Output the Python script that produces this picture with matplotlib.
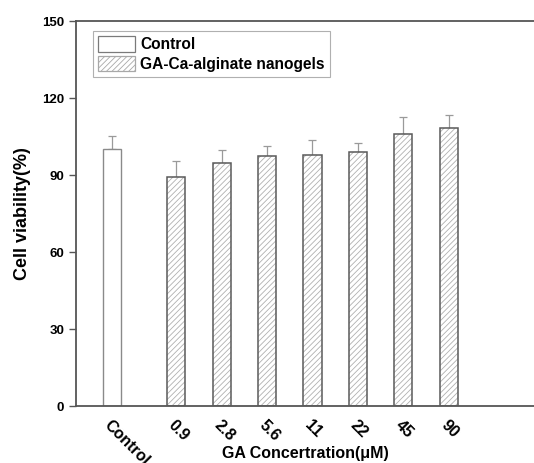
import numpy as np
import matplotlib.pyplot as plt
import matplotlib.transforms as mtransforms
from matplotlib.patches import Patch

plt.rcParams['font.family'] = ['Liberation Sans', 'DejaVu Sans']
plt.rcParams['font.weight'] = 'bold'
plt.rcParams['hatch.linewidth'] = 0.6

labels = ['Control', '0.9', '2.8', '5.6', '11', '22', '45', '90']
viability = [100.0, 89.2, 94.6, 97.4, 97.7, 98.8, 105.9, 108.4]
err = [5.3, 6.4, 5.0, 3.9, 5.8, 3.8, 6.6, 4.9]

pos = np.array([0.0] + [1.42 + i for i in range(7)])
w = 0.4

fig = plt.figure(figsize=(5.34, 4.63), dpi=100)
ax = fig.add_axes([0.1423, 0.1231, 0.8577, 0.8315])

ctrl_edge = '#8a8a8a'
edge = '#5a5a5a'

# control bar
ax.bar(pos[0], viability[0], w, color='white', edgecolor=ctrl_edge, linewidth=1.0,
       zorder=2)
# nanogel bars: hatch drawn light, outline drawn darker on top
ax.bar(pos[1:], viability[1:], w, color='white', edgecolor='#b0b0b0', hatch='//////',
       linewidth=0, zorder=2)
ax.bar(pos[1:], viability[1:], w, fill=False, edgecolor=edge, linewidth=1.1, zorder=3)

ax.errorbar(pos, viability, yerr=[np.zeros(len(err)), err], fmt='none',
            ecolor='#9a9a9a', elinewidth=0.9, capsize=3, capthick=0.9, zorder=1)

# legend proxies
h1 = Patch(facecolor='white', edgecolor='#7a7a7a', linewidth=0.9, label='Control')
h2 = Patch(facecolor='white', edgecolor='#a8a8a8', hatch='//////', linewidth=0.9,
           label='GA-Ca-alginate nanogels')
leg = ax.legend(handles=[h1, h2], loc='upper left', bbox_to_anchor=(0.037, 0.973),
                fontsize=11.2, handlelength=2.4, handleheight=1.15, handletextpad=0.35,
                borderpad=0.3, labelspacing=0.25, fancybox=False, framealpha=1,
                borderaxespad=0)
leg.get_frame().set_edgecolor('#b0b0b0')
leg.get_frame().set_linewidth(0.8)

ax.set_ylim(0, 150)
ax.set_xlim(-0.79, 9.3)
ax.set_yticks([0, 30, 60, 90, 120, 150])
ax.set_xticks(pos)
ax.set_xticklabels(labels, rotation=-45, ha='left', va='top', rotation_mode='anchor')
shift = mtransforms.ScaledTranslation(-10 / 100, 0, fig.dpi_scale_trans)
for t in ax.get_xticklabels():
    t.set_transform(t.get_transform() + shift)
ax.tick_params(axis='x', length=0, pad=8, labelsize=11.5)
ax.tick_params(axis='y', direction='out', length=5, width=1.0, color='#555555',
               labelsize=9.5)

for s in ['left', 'bottom', 'top']:
    ax.spines[s].set_color('#555555')
    ax.spines[s].set_linewidth(1.3)
ax.spines['right'].set_visible(False)

ax.set_ylabel('Cell viability(%)', fontsize=13, fontweight='bold', labelpad=8)
ax.set_xlabel('GA Concertration(\u03bcM)', fontsize=11.5, fontweight='bold', labelpad=-16)

fig.savefig('out.png', dpi=100)
